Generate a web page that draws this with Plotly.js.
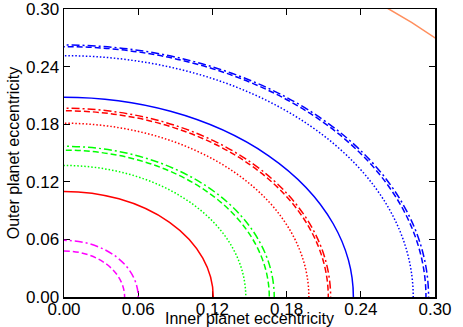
<!DOCTYPE html>
<html>
<head>
<meta charset="utf-8">
<script src="https://cdn.plot.ly/plotly-3.0.1.min.js"></script>
<style>
  body { margin: 0; padding: 0; background: #fff; }
  #chart { width: 463px; height: 327px; }
  #chart .xtick text { translate: 0 -4px; }
</style>
</head>
<body>
<div id="chart"></div>
<script>
var curveColors = ['#ff00ff', '#ff00ff', '#ff0000', '#00ff00', '#00ff00', '#00ff00',
                   '#ff0000', '#ff0000', '#ff0000', '#0000ff', '#0000ff', '#0000ff', '#0000ff', '#ff8f5e'];
var curveDash = ['dashdot', 'dash', 'solid', 'dot', 'dash', 'dashdot',
                 'dot', 'dash', 'dashdot', 'solid', 'dot', 'dash', 'dashdot', 'solid'];
var innerEcc = [0.060, 0.049, 0.1207, 0.147, 0.166, 0.170, 0.198, 0.2137, 0.2156, 0.234, 0.2824, 0.2927, 0.2948, 0.424];
var outerEcc = [0.059, 0.048, 0.110, 0.137, 0.153, 0.157, 0.181, 0.194, 0.1966, 0.208, 0.2514, 0.2608, 0.2625, 0.382];

var tickVals = [0, 0.06, 0.12, 0.18, 0.24, 0.30];
var tickText = ['0.00', '0.06', '0.12', '0.18', '0.24', '0.30'];

var dashMap = {
  solid: 'solid',
  dot: '1.5px,2px',
  dash: '6px,3px',
  dashdot: '8px,3px,2px,3px'
};

var shapes = [];
for (var i = 0; i < innerEcc.length; i++) {
  shapes.push({
    type: 'circle',
    xref: 'x', yref: 'y',
    x0: -innerEcc[i], x1: innerEcc[i],
    y0: -outerEcc[i], y1: outerEcc[i],
    line: {color: curveColors[i], width: 1.5, dash: dashMap[curveDash[i]]},
    layer: 'above'
  });
}

var axisStyle = {
  range: [0, 0.30],
  tickvals: tickVals,
  ticktext: tickText,
  ticks: 'inside',
  ticklen: 6,
  tickwidth: 1,
  tickcolor: '#000',
  ticklabeloverflow: 'allow',
  tickfont: {size: 17},
  showline: true,
  linecolor: '#000',
  linewidth: 1.5,
  mirror: 'ticks',
  showgrid: false,
  zeroline: false,
  fixedrange: true
};

var layout = {
  width: 463,
  height: 327,
  margin: {l: 64, r: 28, t: 9, b: 30},
  paper_bgcolor: '#fff',
  plot_bgcolor: '#fff',
  font: {family: 'Liberation Sans, Arial, sans-serif', size: 16, color: '#000'},
  showlegend: false,
  xaxis: Object.assign({}, axisStyle, {
    title: {text: 'Inner planet eccentricity', standoff: 0, font: {size: 16}}
  }),
  yaxis: Object.assign({}, axisStyle, {
    title: {text: 'Outer planet eccentricity', standoff: 2, font: {size: 16}}
  }),
  shapes: shapes
};

Plotly.newPlot('chart', [], layout, {displayModeBar: false, staticPlot: true});
</script>
</body>
</html>
